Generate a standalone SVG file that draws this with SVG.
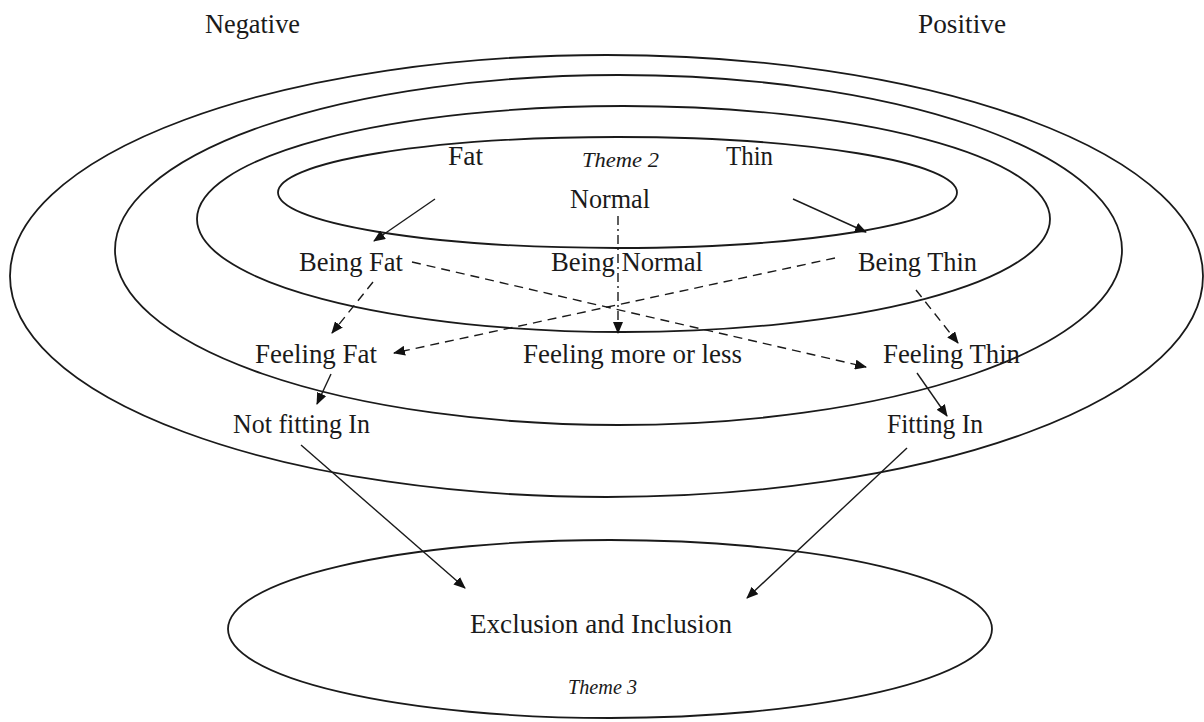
<svg xmlns="http://www.w3.org/2000/svg" width="1204" height="722" viewBox="0 0 1204 722">
  <style>
    .ring { fill: none; stroke: #1a1a1a; stroke-width: 1.8; }
    .lbl { font-family: "Liberation Serif", "Times New Roman", serif; font-size: 27px; fill: #1a1a1a; }
    .theme { font-family: "Liberation Serif", "Times New Roman", serif; font-size: 22px; font-style: italic; fill: #1a1a1a; }
    .solid { stroke: #1a1a1a; stroke-width: 1.4; fill: none; marker-end: url(#tip); }
    .dash { stroke: #1a1a1a; stroke-width: 1.4; fill: none; stroke-dasharray: 9 6; marker-end: url(#tip); }
    .dashdot { stroke: #1a1a1a; stroke-width: 1.4; fill: none; stroke-dasharray: 9 4 2 4; marker-end: url(#tip); }
  </style>
  <defs>
    <marker id="tip" viewBox="0 0 12 10" refX="11" refY="5" markerWidth="12" markerHeight="10" markerUnits="userSpaceOnUse" orient="auto">
      <path d="M0,0 L12,5 L0,10 Z" fill="#111"/>
    </marker>
  </defs>
  <rect width="1204" height="722" fill="#ffffff"/>

  <!-- polarity headings -->
  <g id="negative"><text class="lbl" x="205" y="33" textLength="95" lengthAdjust="spacingAndGlyphs">Negative</text></g>
  <g id="positive"><text class="lbl" x="918" y="33" textLength="88" lengthAdjust="spacingAndGlyphs">Positive</text></g>

  <!-- nested rings of theme 2 -->
  <g id="rings">
    <ellipse class="ring" cx="606.5" cy="276" rx="596.5" ry="221"/>
    <ellipse class="ring" cx="618.5" cy="250" rx="503.5" ry="175"/>
    <ellipse class="ring" cx="623.5" cy="219" rx="426.5" ry="113"/>
    <ellipse class="ring" cx="617.5" cy="192.5" rx="339.5" ry="55.5"/>
  </g>

  <!-- theme 3 ring -->
  <g id="theme3-ring">
    <ellipse class="ring" cx="610" cy="629" rx="382" ry="89" stroke-width="2.2"/>
  </g>

  <g id="fat"><text class="lbl" x="448" y="165" textLength="35" lengthAdjust="spacingAndGlyphs">Fat</text></g>
  <g id="theme2"><text class="theme" x="582" y="167" textLength="77" lengthAdjust="spacingAndGlyphs">Theme 2</text></g>
  <g id="thin"><text class="lbl" x="726" y="165" textLength="47" lengthAdjust="spacingAndGlyphs">Thin</text></g>
  <g id="normal"><text class="lbl" x="570" y="208" textLength="80" lengthAdjust="spacingAndGlyphs">Normal</text></g>

  <g id="being-fat"><text class="lbl" x="299" y="271" textLength="104" lengthAdjust="spacingAndGlyphs">Being Fat</text></g>
  <g id="being-normal"><text class="lbl" x="551" y="271" textLength="152" lengthAdjust="spacingAndGlyphs">Being Normal</text></g>
  <g id="being-thin"><text class="lbl" x="858" y="271" textLength="119" lengthAdjust="spacingAndGlyphs">Being Thin</text></g>

  <g id="feeling-fat"><text class="lbl" x="255" y="363" textLength="122" lengthAdjust="spacingAndGlyphs">Feeling Fat</text></g>
  <g id="feeling-more-or-less"><text class="lbl" x="523" y="363" textLength="219" lengthAdjust="spacingAndGlyphs">Feeling more or less</text></g>
  <g id="feeling-thin"><text class="lbl" x="883" y="363" textLength="137" lengthAdjust="spacingAndGlyphs">Feeling Thin</text></g>

  <g id="not-fitting-in"><text class="lbl" x="233" y="433" textLength="137" lengthAdjust="spacingAndGlyphs">Not fitting In</text></g>
  <g id="fitting-in"><text class="lbl" x="887" y="433" textLength="96" lengthAdjust="spacingAndGlyphs">Fitting In</text></g>

  <g id="exclusion-inclusion"><text class="lbl" x="470" y="633" textLength="262" lengthAdjust="spacingAndGlyphs">Exclusion and Inclusion</text></g>
  <g id="theme3"><text class="theme" x="568" y="694" textLength="69" lengthAdjust="spacingAndGlyphs">Theme 3</text></g>

  <!-- connectors -->
  <g id="connectors">
    <line class="solid" x1="435" y1="199" x2="374" y2="241"/>
    <line class="solid" x1="793" y1="199" x2="866" y2="232"/>
    <line class="dashdot" x1="618" y1="216" x2="618" y2="333"/>
    <line class="dash" x1="412" y1="262" x2="866" y2="367"/>
    <line class="dash" x1="835" y1="258" x2="394" y2="353"/>
    <line class="dash" x1="373" y1="282" x2="332" y2="333"/>
    <line class="dash" x1="916" y1="290" x2="958" y2="343"/>
    <line class="solid" x1="331" y1="374" x2="317" y2="404"/>
    <line class="solid" x1="917" y1="373" x2="947" y2="416"/>
    <line class="solid" x1="301" y1="445" x2="465" y2="588"/>
    <line class="solid" x1="907" y1="448" x2="747" y2="598"/>
  </g>
</svg>
